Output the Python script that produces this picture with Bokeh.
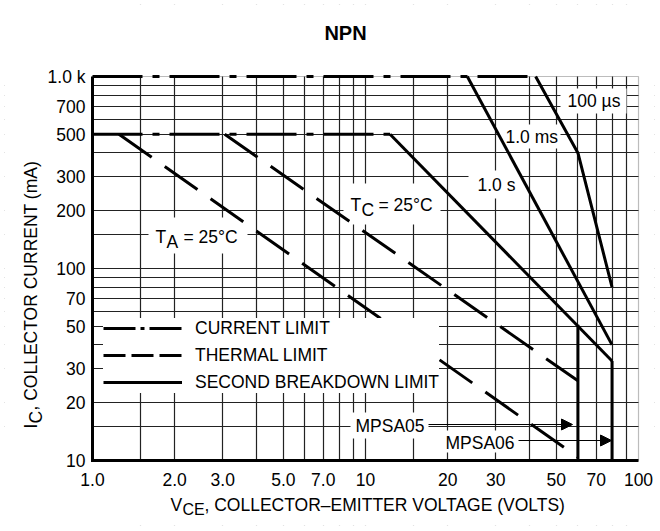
import math
from bokeh.plotting import figure
from bokeh.models import (Range1d, FixedTicker, Label, BoxAnnotation, Arrow,
                          NormalHead, Legend, LegendItem)
from bokeh.core.properties import value
from bokeh.embed import file_html
from bokeh.resources import INLINE

# ---------------- data ----------------
x_ticks = [1, 2, 3, 5, 7, 10, 20, 30, 50, 70, 100]
x_tick_labels = ["1.0", "2.0", "3.0", "5.0", "7.0", "10", "20", "30", "50", "70", "100"]
y_ticks = [10, 20, 30, 50, 70, 100, 200, 300, 500, 700, 1000]
y_tick_labels = ["10", "20", "30", "50", "70", "100", "200", "300", "500", "700", "1.0 k"]
x_grid = [1.5, 2, 3, 4, 5, 6, 7, 8, 9, 10, 15, 20, 30, 40, 50, 60, 70, 80, 90]
y_grid = [15, 20, 30, 40, 50, 60, 70, 80, 90, 100, 150, 200, 300, 400, 500,
          600, 700, 800, 900]

# current limit (dash-dot)
cl_pulse_v = [1.0, 42]
cl_pulse_i = [1000, 1000]
cl_dc_v = [1.0, 12.3]
cl_dc_i = [500, 500]
# thermal limit (dashed)
ta_v = [1.25, 60]
ta_i = [500, 10.4]
tc_v = [3.05, 60]
tc_i = [500, 26]
# second breakdown limit (solid)
sb_1s_v = [12.3, 80]
sb_1s_i = [500, 33]
sb_1ms_v = [23.6, 80]
sb_1ms_i = [1000, 40]
sb_100us_v = [42, 60, 80]
sb_100us_i = [1000, 400, 80]
mpsa05_v = [60, 60]
mpsa05_i = [51, 10]
mpsa06_v = [80, 80]
mpsa06_i = [33, 10]

# ---------------- layout ----------------
FONT = "Liberation Sans"
FS = "17.5px"
W, H = 658, 529
M = 4                                       # thin white border round the frame
BL, BR, BT, BB = 92, 638, 76, 460          # plot box edges in canvas px
DX = (BR - BL) / 2.0                        # px per decade (x)
DY = (BB - BT) / 2.0                        # px per decade (y)

# the frame fills (almost) the whole canvas so that every text can live inside it
X0R, X1R = 10 ** (0 - (BL - M) / DX), 10 ** (2 + (W - M - BR) / DX)
Y0R, Y1R = 10 ** (1 - (H - M - BB) / DY), 10 ** (3 + (BT - M) / DY)
x_rng = Range1d(X0R, X1R)
y_rng = Range1d(Y0R, Y1R)


def dx(X):
    # picture x pixel -> data value (annotation placement only)
    return 10 ** ((X - BL) / DX)


def dy(Y):
    return 10 ** (3 - (Y - BT) / DY)


p = figure(width=W, height=H, x_axis_type="log", y_axis_type="log",
           x_axis_location=None, y_axis_location=None,
           x_range=x_rng, y_range=y_rng,
           output_backend="svg", toolbar_location=None, title=None,
           min_border=M)
p.background_fill_color = "white"
p.border_fill_color = "white"
p.outline_line_color = None

# grid
p.xgrid.ticker = FixedTicker(ticks=x_grid)
p.ygrid.ticker = FixedTicker(ticks=y_grid)
for g in (p.xgrid, p.ygrid):
    g.grid_line_color = "#222222"
    g.grid_line_width = 1.2
    g.minor_grid_line_color = None
    g.level = "image"

# white masks outside the plot box (finite boxes reaching past the frame edges)
MASK = dict(fill_color="white", fill_alpha=1, line_color=None, level="underlay")
p.add_layout(BoxAnnotation(left=X0R / 2, right=x_ticks[0], bottom=Y0R / 2, top=Y1R * 2, **MASK))
p.add_layout(BoxAnnotation(left=x_ticks[-1], right=X1R * 2, bottom=Y0R / 2, top=Y1R * 2, **MASK))
p.add_layout(BoxAnnotation(left=X0R / 2, right=X1R * 2, bottom=Y0R / 2, top=y_ticks[0], **MASK))
p.add_layout(BoxAnnotation(left=X0R / 2, right=X1R * 2, bottom=y_ticks[-1], top=Y1R * 2, **MASK))
p.add_layout(BoxAnnotation(left=x_ticks[0], right=x_ticks[-1], bottom=y_ticks[0],
                           top=y_ticks[-1], fill_alpha=0, line_color="#222222",
                           line_width=1.2, level="underlay"))

# white boxes behind the in-plot texts
WHITE = dict(fill_color="white", fill_alpha=1, line_color=None, level="underlay")
for X0, X1, Y0, Y1 in [(148, 247, 217, 253), (343, 440, 183, 224),
                       (468, 520, 170, 198), (497, 560, 124, 148),
                       (560, 626, 88, 113), (350, 428, 412, 438),
                       (440, 517, 430, 452)]:
    p.add_layout(BoxAnnotation(left=dx(X0), right=dx(X1), top=dy(Y0), bottom=dy(Y1),
                               **WHITE))

# axis lines (left and bottom, heavy)
p.line([x_ticks[0], x_ticks[0], x_ticks[-1]], [y_ticks[-1], y_ticks[0], y_ticks[0]],
       line_width=3, color="black", line_join="miter")

# tick labels
p.text(x=x_ticks, y=[y_ticks[0]] * len(x_ticks), text=x_tick_labels,
       text_font=value(FONT), text_font_size=FS, text_align="center",
       text_baseline="top", y_offset=12, text_color="black")
p.text(x=[x_ticks[0]] * len(y_ticks), y=y_ticks, text=y_tick_labels,
       text_font=value(FONT), text_font_size=FS, text_align="right",
       text_baseline="middle", x_offset=-7, text_color="black")

LW = 3
DASHDOT = "50 10 7 10"
DASHED = "40 16"

# curves
p.line(cl_pulse_v, cl_pulse_i, line_width=LW, color="black", line_dash=DASHDOT)
p.line(cl_dc_v, cl_dc_i, line_width=LW, color="black", line_dash=DASHDOT)
p.line(ta_v, ta_i, line_width=LW, color="black", line_dash=DASHED)
p.line(tc_v, tc_i, line_width=LW, color="black", line_dash=DASHED)
p.line(sb_1s_v, sb_1s_i, line_width=LW, color="black")
p.line(sb_1ms_v, sb_1ms_i, line_width=LW, color="black")
p.line(sb_100us_v, sb_100us_i, line_width=LW, color="black")
p.line(mpsa05_v, mpsa05_i, line_width=LW, color="black")
p.line(mpsa06_v, mpsa06_i, line_width=LW, color="black")

# legend samples (hidden renderers carrying the legend's own dash patterns)
lg_cl = p.line(cl_dc_v, cl_dc_i, line_width=LW, color="black", line_dash="32 5 4 5",
               visible=False)
lg_th = p.line(ta_v, ta_i, line_width=LW, color="black", line_dash="22 6",
               visible=False)
lg_sb = p.line(sb_1s_v, sb_1s_i, line_width=LW, color="black", visible=False)
legend = Legend(items=[LegendItem(label="CURRENT LIMIT", renderers=[lg_cl]),
                       LegendItem(label="THERMAL LIMIT", renderers=[lg_th]),
                       LegendItem(label="SECOND BREAKDOWN LIMIT", renderers=[lg_sb])],
                location=(103 - M, H - M - 392.5), margin=0, padding=10, spacing=6,
                glyph_width=79, glyph_height=20, label_height=20, label_standoff=13,
                label_text_font=FONT, label_text_font_size=FS, label_text_color="black",
                border_line_color=None, background_fill_color="white",
                background_fill_alpha=1, level="underlay")
p.add_layout(legend)


def text(X, Y, s, size=FS, bold=False, align="left", angle=0.0):
    # (X, Y) = left/centre (or centre) of the text in picture pixels
    p.add_layout(Label(x=dx(X), y=dy(Y), text=s, text_font=FONT, text_font_size=size,
                       text_font_style="bold" if bold else "normal", text_align=align,
                       text_baseline="middle", angle=angle, text_color="black"))


# in-plot texts
text(155, 236, "T"); text(166, 241, "A"); text(183, 236, "= 25°C")
text(350, 204, "T"); text(361, 209, "C"); text(378, 204, "= 25°C")
text(477, 184, "1.0 s")
text(505, 136, "1.0 ms")
text(567, 100, "100 µs")
text(355, 425, "MPSA05")
text(445, 442, "MPSA06")

# arrows
for X0, X1, Y in [(428, 572, 424), (518, 611, 440)]:
    p.add_layout(Arrow(end=NormalHead(size=11, fill_color="black", line_color="black"),
                       x_start=dx(X0), y_start=dy(Y), x_end=dx(X1), y_end=dy(Y),
                       line_width=1, line_color="black"))

# title and axis titles
text(345, 32, "NPN", size="20px", bold=True, align="center")
text(170, 504, "V"); text(182, 509, "CE", size="16px")
text(204, 504, ", COLLECTOR\u2013EMITTER VOLTAGE (VOLTS)")
A = math.pi / 2
text(30, 428, "I", angle=A); text(35, 423, "C", angle=A)
text(30, 410, " , COLLECTOR CURRENT (mA)", angle=A)

open("out.html", "w").write(file_html(p, INLINE, "NPN"))
